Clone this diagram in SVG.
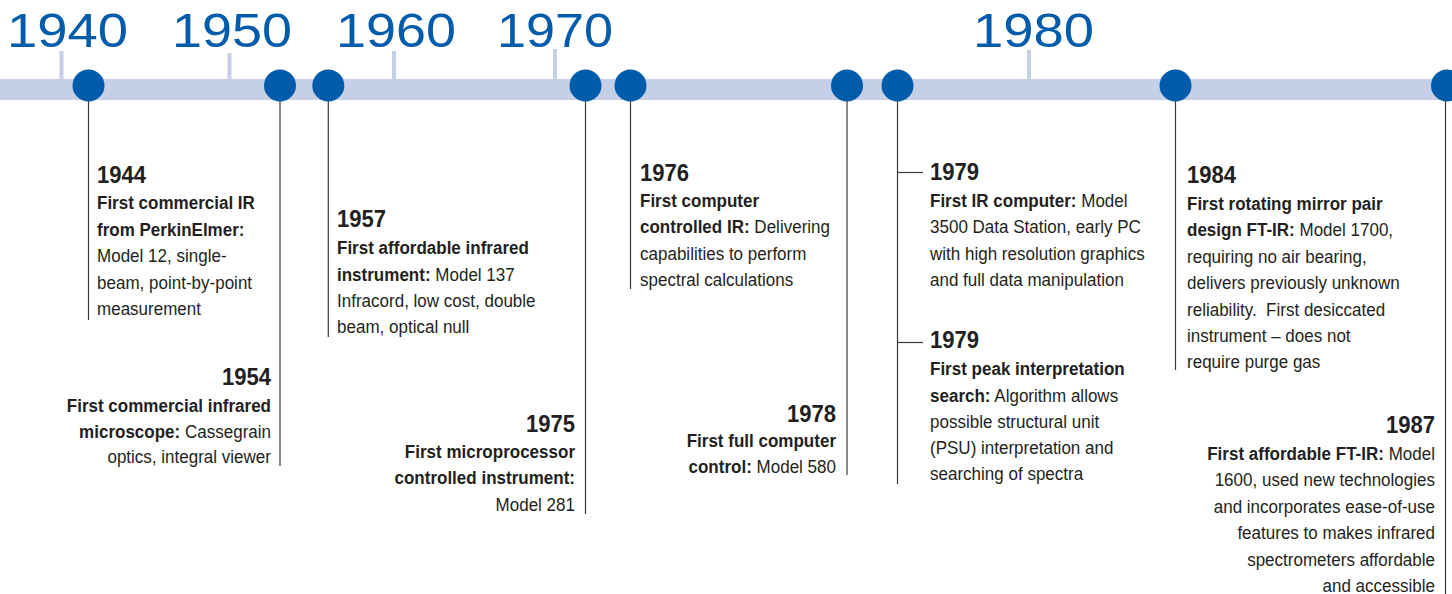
<svg xmlns="http://www.w3.org/2000/svg" width="1452" height="594" viewBox="0 0 1452 594">
<style>
.decade{font-family:"Liberation Sans",Arial,sans-serif;font-size:49px;fill:#005baa}
.t{font-family:"Liberation Sans",Arial,sans-serif;font-size:18.5px;fill:#231f20}
.yr{font-family:"Liberation Sans",Arial,sans-serif;font-size:24px;font-weight:bold;fill:#231f20}
.b{font-weight:bold}
.e{text-anchor:end}
.dot{fill:#005baa}
.lead{stroke:#3a3a3a;stroke-width:1.2;fill:none}
.band{fill:#c6cfe8}
</style>
<rect width="1452" height="594" fill="#ffffff"/>
<g id="axis">
<rect class="band" x="0" y="79" width="1452" height="21"/>
<rect class="band" x="59.5" y="51" width="4" height="28"/>
<rect class="band" x="227.5" y="53" width="4" height="26"/>
<rect class="band" x="392" y="51" width="4" height="28"/>
<rect class="band" x="553" y="49" width="4" height="30"/>
<rect class="band" x="1027" y="50" width="4" height="29"/>
<text class="decade" x="7" y="47" textLength="121" lengthAdjust="spacingAndGlyphs">1940</text>
<text class="decade" x="172" y="47" textLength="120" lengthAdjust="spacingAndGlyphs">1950</text>
<text class="decade" x="336" y="47" textLength="120" lengthAdjust="spacingAndGlyphs">1960</text>
<text class="decade" x="497" y="47" textLength="116" lengthAdjust="spacingAndGlyphs">1970</text>
<text class="decade" x="973" y="47" textLength="121" lengthAdjust="spacingAndGlyphs">1980</text>
</g>
<g id="connectors">
<line class="lead" x1="88.5" y1="85" x2="88.5" y2="320"/>
<line class="lead" x1="280" y1="85" x2="280" y2="466"/>
<line class="lead" x1="328.3" y1="85" x2="328.3" y2="337"/>
<line class="lead" x1="585.5" y1="85" x2="585.5" y2="514"/>
<line class="lead" x1="630.5" y1="85" x2="630.5" y2="289"/>
<line class="lead" x1="847" y1="85" x2="847" y2="475"/>
<line class="lead" x1="897.5" y1="85" x2="897.5" y2="484"/>
<line class="lead" x1="897.5" y1="172.5" x2="923" y2="172.5"/>
<line class="lead" x1="897.5" y1="342.5" x2="923" y2="342.5"/>
<line class="lead" x1="1175.5" y1="85" x2="1175.5" y2="370"/>
<line class="lead" x1="1445.5" y1="85" x2="1445.5" y2="594"/>
</g>
<g id="n1944">
<circle class="dot" cx="88.5" cy="85.5" r="16"/>
<g transform="translate(97 0) scale(0.92 1)">
<text class="yr" x="0" y="183">1944</text>
<text class="t b" x="0" y="209.5">First commercial IR</text>
<text class="t b" x="0" y="236">from PerkinElmer:</text>
<text class="t" x="0" y="262.5">Model 12, single-</text>
<text class="t" x="0" y="289">beam, point-by-point</text>
<text class="t" x="0" y="315.5">measurement</text>
</g>
</g>
<g id="n1954">
<circle class="dot" cx="280" cy="85.5" r="16"/>
<g transform="translate(271 0) scale(0.92 1)">
<text class="yr e" x="0" y="385">1954</text>
<text class="t b e" x="0" y="411.7">First commercial infrared</text>
<text class="t e" x="0" y="437.7"><tspan class="b">microscope:</tspan> Cassegrain</text>
<text class="t e" x="0" y="463.3">optics, integral viewer</text>
</g>
</g>
<g id="n1957">
<circle class="dot" cx="328.3" cy="85.5" r="16"/>
<g transform="translate(337 0) scale(0.92 1)">
<text class="yr" x="0" y="227.3">1957</text>
<text class="t b" x="0" y="254">First affordable infrared</text>
<text class="t" x="0" y="280.7"><tspan class="b">instrument:</tspan> Model 137</text>
<text class="t" x="0" y="307.3">Infracord, low cost, double</text>
<text class="t" x="0" y="333.3">beam, optical null</text>
</g>
</g>
<g id="n1975">
<circle class="dot" cx="585.5" cy="85.5" r="16"/>
<g transform="translate(575 0) scale(0.92 1)">
<text class="yr e" x="0" y="431.7">1975</text>
<text class="t b e" x="0" y="457.7">First microprocessor</text>
<text class="t b e" x="0" y="484.3">controlled instrument:</text>
<text class="t e" x="0" y="510.7">Model 281</text>
</g>
</g>
<g id="n1976">
<circle class="dot" cx="630.5" cy="85.5" r="16"/>
<g transform="translate(640 0) scale(0.92 1)">
<text class="yr" x="0" y="180.7">1976</text>
<text class="t b" x="0" y="207.3">First computer</text>
<text class="t" x="0" y="233.3"><tspan class="b">controlled IR:</tspan> Delivering</text>
<text class="t" x="0" y="260">capabilities to perform</text>
<text class="t" x="0" y="286">spectral calculations</text>
</g>
</g>
<g id="n1978">
<circle class="dot" cx="847" cy="85.5" r="16"/>
<g transform="translate(836 0) scale(0.92 1)">
<text class="yr e" x="0" y="421.7">1978</text>
<text class="t b e" x="0" y="447.3">First full computer</text>
<text class="t e" x="0" y="473.3"><tspan class="b">control:</tspan> Model 580</text>
</g>
</g>
<g id="n1979">
<circle class="dot" cx="897.5" cy="85.5" r="16"/>
<g transform="translate(930 0) scale(0.92 1)">
<text class="yr" x="0" y="180">1979</text>
<text class="t" x="0" y="206.7"><tspan class="b">First IR computer:</tspan> Model</text>
<text class="t" x="0" y="233.3">3500 Data Station, early PC</text>
<text class="t" x="0" y="260">with high resolution graphics</text>
<text class="t" x="0" y="286">and full data manipulation</text>
<text class="yr" x="0" y="348.3">1979</text>
<text class="t b" x="0" y="375">First peak interpretation</text>
<text class="t" x="0" y="401.7"><tspan class="b">search:</tspan> Algorithm allows</text>
<text class="t" x="0" y="427.7">possible structural unit</text>
<text class="t" x="0" y="454.3">(PSU) interpretation and</text>
<text class="t" x="0" y="480">searching of spectra</text>
</g>
</g>
<g id="n1984">
<circle class="dot" cx="1175.5" cy="85.5" r="16"/>
<g transform="translate(1187 0) scale(0.92 1)">
<text class="yr" x="0" y="182.7">1984</text>
<text class="t b" x="0" y="210">First rotating mirror pair</text>
<text class="t" x="0" y="236"><tspan class="b">design FT-IR:</tspan> Model 1700,</text>
<text class="t" x="0" y="262.7">requiring no air bearing,</text>
<text class="t" x="0" y="289.3">delivers previously unknown</text>
<text class="t" x="0" y="315.7">reliability.&#160; First desiccated</text>
<text class="t" x="0" y="342.3">instrument – does not</text>
<text class="t" x="0" y="368.3">require purge gas</text>
</g>
</g>
<g id="n1987">
<circle class="dot" cx="1447" cy="85.5" r="16"/>
<g transform="translate(1435 0) scale(0.92 1)">
<text class="yr e" x="0" y="433.3">1987</text>
<text class="t e" x="0" y="460"><tspan class="b">First affordable FT-IR:</tspan> Model</text>
<text class="t e" x="0" y="486">1600, used new technologies</text>
<text class="t e" x="0" y="512.7">and incorporates ease-of-use</text>
<text class="t e" x="0" y="539.3">features to makes infrared</text>
<text class="t e" x="0" y="565.7">spectrometers affordable</text>
<text class="t e" x="0" y="592.3">and accessible</text>
</g>
</g>
</svg>
